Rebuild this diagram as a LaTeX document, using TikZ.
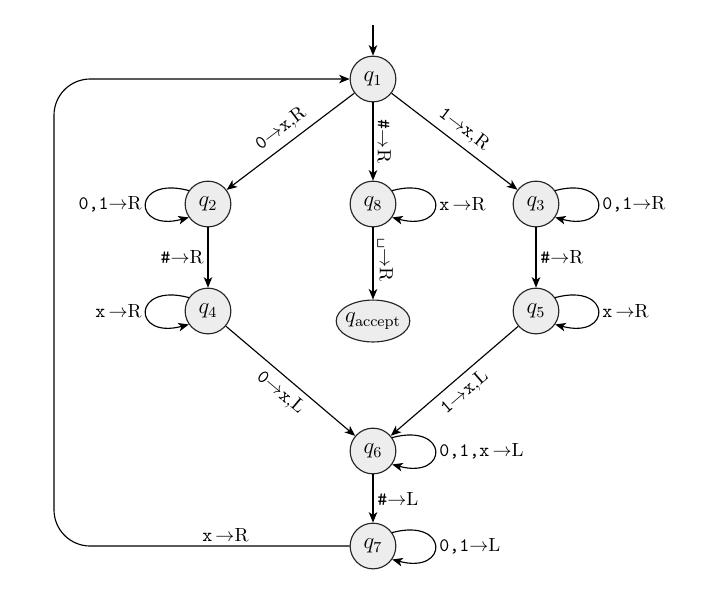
\documentclass[tikz,border=0pt]{standalone}
\usetikzlibrary{arrows.meta,shapes.geometric}
\begin{document}
\begin{tikzpicture}[x=0.525pt,y=-0.525pt,
  >={Stealth[length=5.5pt,width=4.5pt,inset=1.5pt]},
  every path/.style={semithick},
  st/.style={circle,draw=black!85,fill=black!7,minimum size=24pt,inner sep=0pt,font=\large},
  acc/.style={ellipse,draw=black!85,fill=black!7,minimum height=22pt,inner ysep=0pt,inner xsep=-1pt,font=\large},
  lb/.style={inner sep=2pt},
  slb/.style={inner sep=3.5pt,sloped}
]
\useasboundingbox (0,0) rectangle (726,602);
\node[st] (q1) at (373,79) {$q_1$};
\node[st] (q2) at (208,204) {$q_2$};
\node[st] (q8) at (373,204) {$q_8$};
\node[st] (q3) at (536,204) {$q_3$};
\node[st] (q4) at (208,311) {$q_4$};
\node[acc] (qa) at (373,321) {$q_{\mathrm{accept}}$};
\node[st] (q5) at (536,311) {$q_5$};
\node[st] (q6) at (373,451) {$q_6$};
\node[st] (q7) at (373,546) {$q_7$};
\coordinate (init) at (373,25);
\coordinate (bl) at (54,546);
\coordinate (tl) at (54,79);

\draw[->] (init) -- (q1);
\draw[->] (q1) -- node[slb,above]{\texttt{0}$\rightarrow$\texttt{x},R} (q2);
\draw[->] (q1) -- node[slb,above]{\texttt{1}$\rightarrow$\texttt{x},R} (q3);
\draw[->] (q1) -- node[lb,rotate=-90,anchor=south]{\texttt{\#}$\rightarrow$R} (q8);
\draw[->] (q8) -- node[lb,rotate=-90,anchor=south,pos=0.45]{\texttt{\textvisiblespace}$\rightarrow$R} (qa);
\draw[->] (q2) -- node[lb,left]{\texttt{\#}$\rightarrow$R} (q4);
\draw[->] (q3) -- node[lb,right]{\texttt{\#}$\rightarrow$R} (q5);
\draw[->] (q4) -- node[slb,below]{\texttt{0}$\rightarrow$\texttt{x},L} (q6);
\draw[->] (q5) -- node[slb,below]{\texttt{1}$\rightarrow$\texttt{x},L} (q6);
\draw[->] (q6) -- node[lb,right]{\texttt{\#}$\rightarrow$L} (q7);
\draw[->,rounded corners=19pt] (q7) -- node[lb,above,pos=0.42]{\texttt{x}\,$\rightarrow$R} (bl) -- (tl) -- (q1);

% loops
\draw[->] (q2.145) .. controls +(165:31pt) and +(195:31pt) .. node[lb,left]{\texttt{0,1}$\rightarrow$R} (q2.215);
\draw[->] (q4.145) .. controls +(165:31pt) and +(195:31pt) .. node[lb,left]{\texttt{x}\,$\rightarrow$R} (q4.215);
\draw[->] (q8.35) .. controls +(15:31pt) and +(-15:31pt) .. node[lb,right]{\texttt{x}\,$\rightarrow$R} (q8.-35);
\draw[->] (q3.35) .. controls +(15:31pt) and +(-15:31pt) .. node[lb,right]{\texttt{0,1}$\rightarrow$R} (q3.-35);
\draw[->] (q5.35) .. controls +(15:31pt) and +(-15:31pt) .. node[lb,right]{\texttt{x}\,$\rightarrow$R} (q5.-35);
\draw[->] (q6.35) .. controls +(15:31pt) and +(-15:31pt) .. node[lb,right]{\texttt{0,1,x}\,$\rightarrow$L} (q6.-35);
\draw[->] (q7.35) .. controls +(15:31pt) and +(-15:31pt) .. node[lb,right]{\texttt{0,1}$\rightarrow$L} (q7.-35);
\end{tikzpicture}
\end{document}
